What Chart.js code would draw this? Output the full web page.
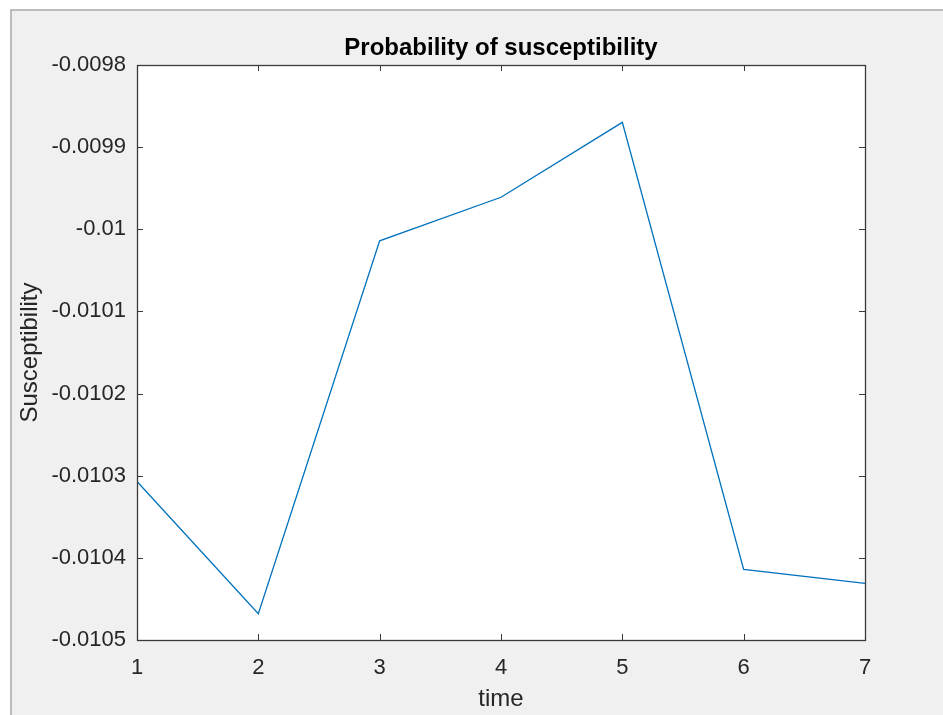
<!DOCTYPE html>
<html>
<head>
<meta charset="utf-8">
<script src="https://cdn.jsdelivr.net/npm/chart.js@4/dist/chart.umd.min.js"></script>
<style>
  html, body { margin: 0; padding: 0; background: #ffffff; }
  #wrap { width: 943px; height: 715px; }
</style>
</head>
<body>
<div id="wrap"><canvas id="c" width="943" height="715"></canvas></div>
<script>
const times = [1, 2, 3, 4, 5, 6, 7];
const susceptibility = [-0.010307, -0.010468, -0.010014, -0.009961, -0.0098698, -0.010414, -0.010431];
const xTickValues = [1, 2, 3, 4, 5, 6, 7];
const xTickLabels = ['1', '2', '3', '4', '5', '6', '7'];
const yTickValues = [-0.0105, -0.0104, -0.0103, -0.0102, -0.0101, -0.0100, -0.0099, -0.0098];
const yTickLabels = ['-0.0105', '-0.0104', '-0.0103', '-0.0102', '-0.0101', '-0.01', '-0.0099', '-0.0098'];

const FONT = "'Liberation Sans', Arial, Helvetica, sans-serif";
const TEXT = '#262626';
const AXIS = '#3a3a3a';

const framePlugin = {
  id: 'frame',
  beforeDraw(chart) {
    const ctx = chart.ctx;
    const a = chart.chartArea;
    ctx.save();
    ctx.fillStyle = '#ffffff';
    ctx.fillRect(0, 0, chart.width, chart.height);
    ctx.fillStyle = '#f0f0f0';
    ctx.fillRect(11, 10, chart.width - 11, chart.height - 10);
    ctx.strokeStyle = '#a8a8a8';
    ctx.lineWidth = 1.5;
    ctx.beginPath();
    ctx.moveTo(11, chart.height);
    ctx.lineTo(11, 10);
    ctx.lineTo(chart.width, 10);
    ctx.stroke();
    ctx.fillStyle = '#ffffff';
    ctx.fillRect(a.left, a.top, a.right - a.left, a.bottom - a.top);
    ctx.restore();
  },
  afterDatasetsDraw(chart) {
    const ctx = chart.ctx;
    const a = chart.chartArea;
    const xs = chart.scales.x, ys = chart.scales.y;
    const tl = 6;
    ctx.save();
    ctx.strokeStyle = AXIS;
    ctx.lineWidth = 1;
    ctx.beginPath();
    xs.ticks.forEach(t => {
      const px = Math.round(xs.getPixelForValue(t.value)) + 0.5;
      ctx.moveTo(px, a.bottom); ctx.lineTo(px, a.bottom - tl);
      ctx.moveTo(px, a.top); ctx.lineTo(px, a.top + tl);
    });
    ys.ticks.forEach(t => {
      const py = Math.round(ys.getPixelForValue(t.value)) + 0.5;
      ctx.moveTo(a.left, py); ctx.lineTo(a.left + tl, py);
      ctx.moveTo(a.right, py); ctx.lineTo(a.right - tl, py);
    });
    ctx.stroke();
    ctx.lineWidth = 1.3;
    ctx.strokeRect(Math.round(a.left) + 0.5, Math.round(a.top) + 0.5,
                   Math.round(a.right - a.left), Math.round(a.bottom - a.top));
    ctx.restore();
  }
};

new Chart(document.getElementById('c'), {
  type: 'line',
  data: {
    datasets: [{
      label: 'Susceptibility',
      data: times.map((t, i) => ({ x: t, y: susceptibility[i] })),
      borderColor: 'rgb(0,114,189)',
      borderWidth: 1.3,
      pointRadius: 0,
      tension: 0,
      fill: false
    }]
  },
  options: {
    responsive: false,
    animation: false,
    devicePixelRatio: 1,
    layout: { padding: { left: 0, right: 78, top: 0, bottom: 0 } },
    plugins: {
      legend: { display: false },
      tooltip: { enabled: false },
      title: {
        display: true,
        text: 'Probability of susceptibility',
        fullSize: false,
        color: '#000000',
        font: { family: FONT, size: 24, weight: 'bold', lineHeight: 1.2 },
        padding: { top: 33.5, bottom: 2.7 }
      }
    },
    scales: {
      x: {
        type: 'linear',
        min: 1, max: 7,
        afterFit(scale) { scale.height = 75; },
        afterBuildTicks(scale) { scale.ticks = xTickValues.map(v => ({ value: v })); },
        grid: { display: false, drawTicks: false },
        border: { display: false },
        ticks: {
          color: TEXT,
          padding: 15,
          maxRotation: 0,
          font: { family: FONT, size: 22 },
          callback: (v, i) => xTickLabels[i]
        },
        title: {
          display: true,
          text: 'time',
          color: TEXT,
          font: { family: FONT, size: 24, lineHeight: 1.2 },
          padding: { top: 0, bottom: 1 }
        }
      },
      y: {
        type: 'linear',
        min: -0.0105, max: -0.0098,
        afterFit(scale) { scale.width = 137; },
        afterBuildTicks(scale) { scale.ticks = yTickValues.map(v => ({ value: v })); },
        grid: { display: false, drawTicks: false },
        border: { display: false },
        ticks: {
          color: TEXT,
          padding: 11,
          font: { family: FONT, size: 22 },
          callback: (v, i) => yTickLabels[i]
        },
        title: {
          display: true,
          text: 'Susceptibility',
          color: TEXT,
          font: { family: FONT, size: 24, lineHeight: 1.2 },
          padding: { top: 16, bottom: 0 }
        }
      }
    }
  },
  plugins: [framePlugin]
});
</script>
</body>
</html>
